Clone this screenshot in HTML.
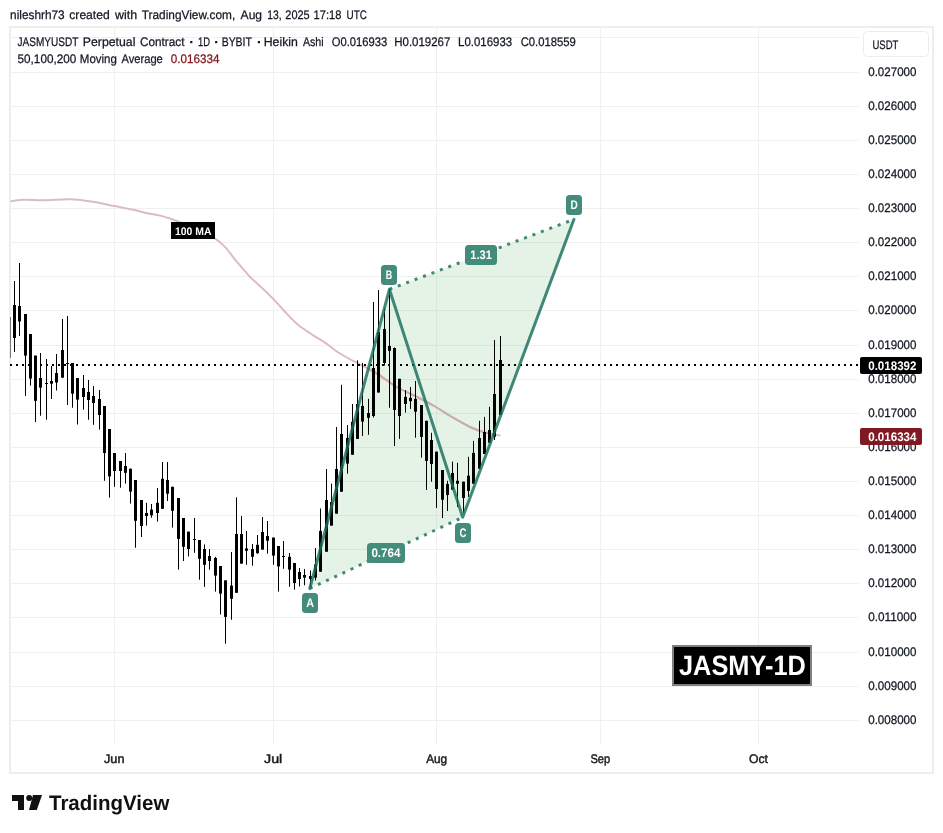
<!DOCTYPE html><html><head><meta charset="utf-8"><title>chart</title><style>
html,body{margin:0;padding:0;background:#fff;}
body{width:943px;height:833px;position:relative;overflow:hidden;}
svg{font-family:"Liberation Sans",sans-serif;will-change:transform;text-rendering:geometricPrecision;}
</style></head><body>
<svg width="943" height="833" viewBox="0 0 943 833" style="position:absolute;left:0;top:0">
<rect x="10" y="27" width="923" height="746" fill="#fff" stroke="#eeeeee" stroke-width="2"/>
<path d="M11 720.5H859 M11 686.5H859 M11 652.5H859 M11 617.5H859 M11 583.5H859 M11 549.5H859 M11 515.5H859 M11 481.5H859 M11 447.5H859 M11 413.5H859 M11 379.5H859 M11 345.5H859 M11 310.5H859 M11 276.5H859 M11 242.5H859 M11 208.5H859 M11 174.5H859 M11 140.5H859 M11 106.5H859 M11 72.5H859 M11 37.5H859 M114.5 28V745 M273.5 28V745 M436.5 28V745 M600.5 28V745 M758.5 28V745" stroke="#f0f0f0" stroke-width="1" fill="none" shape-rendering="crispEdges"/>
<polygon points="309.8,588.5 389.4,289.3 573.9,219.4 462.7,517.3" fill="rgba(76,175,80,0.15)"/>
<path d="M10.5 201.2C12.9 200.9 19.2 199.8 24.8 199.7C30.4 199.5 36.3 200.4 43.9 200.3C51.5 200.2 62.6 199.1 70.6 199.3C78.5 199.5 84.3 200.5 91.6 201.6C98.9 202.7 107.5 204.6 114.5 206C121.5 207.4 127.9 208.5 133.6 209.8C139.3 211.1 144.1 212.6 148.9 213.6C153.7 214.6 157.4 214.8 162.2 216.1C167.0 217.4 171.2 218.8 177.5 221.3C183.8 223.8 193.8 228.2 200 231C206.2 233.8 210.2 235.5 214.4 238.2C218.6 240.8 221.3 243.1 225 246.9C228.7 250.8 232.3 256.3 236.5 261.3C240.7 266.3 245.4 272.1 249.9 276.7C254.4 281.3 259.4 285.4 263.4 289.2C267.4 293.0 270.5 296.0 274 299.7C277.5 303.4 280.5 307.0 284.5 311.2C288.5 315.4 293.2 320.7 298 324.7C302.8 328.7 308.5 332.1 313.3 335.3C318.1 338.5 322.6 341.0 326.8 343.9C331.0 346.8 333.8 349.6 338.3 352.5C342.8 355.4 349.2 358.8 353.7 361.2C358.2 363.6 361.0 364.8 365.2 367C369.4 369.2 373.4 371.3 378.6 374.6C383.8 377.9 390.5 383.4 396.6 387C402.7 390.6 408.6 392.8 415 396C421.4 399.2 428.8 403.0 435 406.5C441.2 410.0 446.2 413.6 452 417C457.8 420.4 464.5 424.4 470 427C475.5 429.6 479.9 431.1 485 432.5C490.1 433.9 498.0 435.1 500.6 435.6" stroke="#dbbcc1" stroke-width="2" fill="none" stroke-linejoin="round"/>
<clipPath id="cp"><polygon points="309.8,588.5 389.4,289.3 573.9,219.4 462.7,517.3"/></clipPath>
<path d="M10.5 201.2C12.9 200.9 19.2 199.8 24.8 199.7C30.4 199.5 36.3 200.4 43.9 200.3C51.5 200.2 62.6 199.1 70.6 199.3C78.5 199.5 84.3 200.5 91.6 201.6C98.9 202.7 107.5 204.6 114.5 206C121.5 207.4 127.9 208.5 133.6 209.8C139.3 211.1 144.1 212.6 148.9 213.6C153.7 214.6 157.4 214.8 162.2 216.1C167.0 217.4 171.2 218.8 177.5 221.3C183.8 223.8 193.8 228.2 200 231C206.2 233.8 210.2 235.5 214.4 238.2C218.6 240.8 221.3 243.1 225 246.9C228.7 250.8 232.3 256.3 236.5 261.3C240.7 266.3 245.4 272.1 249.9 276.7C254.4 281.3 259.4 285.4 263.4 289.2C267.4 293.0 270.5 296.0 274 299.7C277.5 303.4 280.5 307.0 284.5 311.2C288.5 315.4 293.2 320.7 298 324.7C302.8 328.7 308.5 332.1 313.3 335.3C318.1 338.5 322.6 341.0 326.8 343.9C331.0 346.8 333.8 349.6 338.3 352.5C342.8 355.4 349.2 358.8 353.7 361.2C358.2 363.6 361.0 364.8 365.2 367C369.4 369.2 373.4 371.3 378.6 374.6C383.8 377.9 390.5 383.4 396.6 387C402.7 390.6 408.6 392.8 415 396C421.4 399.2 428.8 403.0 435 406.5C441.2 410.0 446.2 413.6 452 417C457.8 420.4 464.5 424.4 470 427C475.5 429.6 479.9 431.1 485 432.5C490.1 433.9 498.0 435.1 500.6 435.6" stroke="#ccaba9" stroke-width="2" fill="none" stroke-linejoin="round" clip-path="url(#cp)"/>
<rect x="10" y="317" width="1" height="41" fill="#777"/>
<g fill="#000"><rect x="14" y="281.0" width="1" height="71.0"/><rect x="19" y="263.0" width="1" height="73.0"/><rect x="25" y="314.0" width="1" height="82.0"/><rect x="30" y="334.0" width="1" height="51.6"/><rect x="35" y="355.6" width="1" height="66.4"/><rect x="40" y="353.0" width="1" height="62.7"/><rect x="46" y="359.0" width="1" height="60.7"/><rect x="51" y="366.0" width="1" height="33.0"/><rect x="56" y="354.0" width="1" height="36.5"/><rect x="62" y="319.0" width="1" height="58.7"/><rect x="67" y="316.0" width="1" height="89.0"/><rect x="72" y="363.0" width="1" height="44.7"/><rect x="77" y="378.0" width="1" height="46.5"/><rect x="83" y="375.0" width="1" height="34.7"/><rect x="88" y="380.0" width="1" height="39.7"/><rect x="93" y="386.0" width="1" height="38.8"/><rect x="99" y="390.0" width="1" height="39.6"/><rect x="104" y="406.0" width="1" height="74.8"/><rect x="109" y="429.0" width="1" height="68.6"/><rect x="114" y="453.0" width="1" height="33.8"/><rect x="120" y="461.0" width="1" height="26.7"/><rect x="125" y="453.0" width="1" height="30.6"/><rect x="130" y="468.7" width="1" height="34.9"/><rect x="135" y="480.0" width="1" height="67.7"/><rect x="141" y="500.0" width="1" height="37.0"/><rect x="146" y="502.8" width="1" height="22.8"/><rect x="151" y="504.0" width="1" height="13.7"/><rect x="157" y="488.0" width="1" height="33.6"/><rect x="162" y="462.0" width="1" height="46.8"/><rect x="167" y="462.0" width="1" height="39.0"/><rect x="172" y="486.8" width="1" height="40.8"/><rect x="178" y="498.0" width="1" height="71.6"/><rect x="183" y="518.0" width="1" height="43.0"/><rect x="188" y="531.7" width="1" height="24.7"/><rect x="194" y="518.0" width="1" height="34.8"/><rect x="199" y="540.0" width="1" height="39.7"/><rect x="204" y="544.4" width="1" height="42.5"/><rect x="209" y="549.0" width="1" height="20.6"/><rect x="215" y="556.8" width="1" height="34.8"/><rect x="220" y="566.0" width="1" height="48.5"/><rect x="225" y="580.4" width="1" height="63.3"/><rect x="231" y="552.0" width="1" height="67.7"/><rect x="236" y="497.3" width="1" height="95.5"/><rect x="241" y="516.0" width="1" height="47.6"/><rect x="246" y="530.9" width="1" height="33.9"/><rect x="252" y="544.0" width="1" height="21.7"/><rect x="257" y="535.0" width="1" height="18.7"/><rect x="262" y="517.0" width="1" height="32.6"/><rect x="267" y="521.0" width="1" height="32.7"/><rect x="273" y="537.6" width="1" height="27.2"/><rect x="278" y="546.0" width="1" height="45.6"/><rect x="283" y="541.0" width="1" height="27.8"/><rect x="289" y="553.0" width="1" height="33.8"/><rect x="294" y="563.0" width="1" height="26.7"/><rect x="299" y="568.0" width="1" height="18.5"/><rect x="304" y="569.0" width="1" height="16.3"/><rect x="310" y="570.5" width="1" height="17.5"/><rect x="315" y="548.0" width="1" height="32.5"/><rect x="320" y="508.5" width="1" height="63.2"/><rect x="326" y="469.0" width="1" height="82.7"/><rect x="331" y="483.6" width="1" height="42.0"/><rect x="336" y="427.0" width="1" height="86.6"/><rect x="341" y="384.8" width="1" height="106.9"/><rect x="347" y="425.0" width="1" height="48.7"/><rect x="352" y="404.0" width="1" height="50.7"/><rect x="357" y="360.4" width="1" height="78.5"/><rect x="362" y="363.0" width="1" height="73.0"/><rect x="368" y="398.8" width="1" height="36.0"/><rect x="373" y="302.0" width="1" height="115.5"/><rect x="378" y="290.0" width="1" height="102.5"/><rect x="384" y="308.0" width="1" height="57.6"/><rect x="389" y="289.3" width="1" height="118.4"/><rect x="394" y="347.5" width="1" height="98.5"/><rect x="399" y="378.8" width="1" height="60.1"/><rect x="405" y="390.0" width="1" height="22.5"/><rect x="410" y="387.0" width="1" height="21.9"/><rect x="415" y="381.0" width="1" height="56.7"/><rect x="421" y="405.0" width="1" height="52.7"/><rect x="426" y="420.8" width="1" height="69.2"/><rect x="431" y="432.8" width="1" height="48.9"/><rect x="436" y="451.7" width="1" height="56.3"/><rect x="442" y="470.0" width="1" height="48.0"/><rect x="447" y="480.8" width="1" height="30.2"/><rect x="452" y="461.6" width="1" height="28.1"/><rect x="457" y="462.8" width="1" height="44.2"/><rect x="463" y="481.7" width="1" height="30.8"/><rect x="468" y="456.8" width="1" height="40.1"/><rect x="473" y="440.9" width="1" height="42.8"/><rect x="479" y="420.8" width="1" height="48.0"/><rect x="484" y="416.9" width="1" height="37.1"/><rect x="489" y="406.8" width="1" height="36.0"/><rect x="494" y="340.0" width="1" height="100.0"/><rect x="500" y="336.0" width="1" height="79.0"/><rect x="13" y="305.0" width="3" height="33.0"/><rect x="18" y="306.0" width="3" height="15.5"/><rect x="24" y="314.0" width="3" height="41.6"/><rect x="29" y="334.0" width="3" height="44.5"/><rect x="34" y="355.6" width="3" height="45.2"/><rect x="39" y="378.0" width="3" height="9.6"/><rect x="45" y="383.0" width="3" height="1.0"/><rect x="50" y="381.0" width="3" height="2.7"/><rect x="55" y="373.0" width="3" height="9.5"/><rect x="61" y="350.0" width="3" height="27.7"/><rect x="66" y="363.0" width="3" height="1.0"/><rect x="71" y="363.0" width="3" height="30.6"/><rect x="76" y="378.0" width="3" height="21.6"/><rect x="82" y="388.0" width="3" height="9.0"/><rect x="87" y="392.0" width="3" height="8.0"/><rect x="92" y="396.0" width="3" height="7.0"/><rect x="98" y="399.0" width="3" height="16.0"/><rect x="103" y="406.0" width="3" height="47.0"/><rect x="108" y="429.0" width="3" height="47.4"/><rect x="113" y="453.0" width="3" height="18.0"/><rect x="119" y="461.0" width="3" height="10.0"/><rect x="124" y="466.0" width="3" height="6.8"/><rect x="129" y="468.7" width="3" height="22.9"/><rect x="134" y="480.0" width="3" height="40.8"/><rect x="140" y="500.0" width="3" height="26.0"/><rect x="145" y="513.0" width="3" height="3.0"/><rect x="150" y="509.6" width="3" height="5.7"/><rect x="156" y="502.8" width="3" height="10.2"/><rect x="161" y="478.8" width="3" height="30.0"/><rect x="166" y="480.0" width="3" height="13.7"/><rect x="171" y="486.8" width="3" height="24.0"/><rect x="177" y="498.0" width="3" height="40.9"/><rect x="182" y="518.0" width="3" height="28.8"/><rect x="187" y="531.7" width="3" height="17.3"/><rect x="193" y="539.0" width="3" height="1.0"/><rect x="198" y="540.0" width="3" height="18.8"/><rect x="203" y="549.0" width="3" height="15.8"/><rect x="208" y="556.0" width="3" height="5.0"/><rect x="214" y="558.0" width="3" height="17.6"/><rect x="219" y="566.0" width="3" height="27.6"/><rect x="224" y="580.4" width="3" height="36.5"/><rect x="230" y="585.6" width="3" height="13.2"/><rect x="235" y="534.0" width="3" height="58.8"/><rect x="240" y="534.0" width="3" height="29.6"/><rect x="245" y="548.4" width="3" height="2.4"/><rect x="251" y="549.0" width="3" height="7.8"/><rect x="256" y="544.8" width="3" height="8.4"/><rect x="261" y="532.0" width="3" height="17.6"/><rect x="266" y="536.0" width="3" height="4.7"/><rect x="272" y="537.6" width="3" height="18.0"/><rect x="277" y="546.0" width="3" height="20.4"/><rect x="282" y="556.0" width="3" height="1.0"/><rect x="288" y="556.8" width="3" height="12.8"/><rect x="293" y="563.0" width="3" height="20.0"/><rect x="298" y="572.0" width="3" height="7.0"/><rect x="303" y="575.0" width="3" height="2.7"/><rect x="309" y="576.0" width="3" height="3.0"/><rect x="314" y="564.5" width="3" height="13.2"/><rect x="319" y="530.9" width="3" height="40.8"/><rect x="325" y="500.0" width="3" height="51.7"/><rect x="330" y="502.0" width="3" height="23.6"/><rect x="335" y="469.0" width="3" height="44.6"/><rect x="340" y="434.0" width="3" height="57.7"/><rect x="346" y="438.0" width="3" height="25.6"/><rect x="351" y="421.8" width="3" height="32.9"/><rect x="356" y="404.0" width="3" height="34.9"/><rect x="361" y="406.0" width="3" height="15.6"/><rect x="367" y="413.0" width="3" height="4.8"/><rect x="372" y="368.0" width="3" height="48.0"/><rect x="377" y="332.0" width="3" height="60.5"/><rect x="383" y="329.0" width="3" height="34.0"/><rect x="388" y="346.0" width="3" height="4.8"/><rect x="393" y="348.0" width="3" height="62.0"/><rect x="398" y="378.8" width="3" height="37.2"/><rect x="404" y="396.9" width="3" height="7.1"/><rect x="409" y="397.8" width="3" height="3.4"/><rect x="414" y="398.9" width="3" height="12.8"/><rect x="420" y="405.0" width="3" height="31.9"/><rect x="425" y="420.8" width="3" height="40.1"/><rect x="430" y="440.0" width="3" height="24.0"/><rect x="435" y="451.7" width="3" height="37.3"/><rect x="441" y="470.0" width="3" height="29.7"/><rect x="446" y="484.0" width="3" height="11.0"/><rect x="451" y="473.0" width="3" height="16.7"/><rect x="456" y="480.8" width="3" height="2.9"/><rect x="462" y="481.7" width="3" height="16.3"/><rect x="467" y="475.7" width="3" height="15.2"/><rect x="472" y="452.9" width="3" height="30.8"/><rect x="478" y="438.0" width="3" height="30.8"/><rect x="483" y="432.0" width="3" height="22.0"/><rect x="488" y="430.0" width="3" height="12.8"/><rect x="493" y="394.0" width="3" height="42.8"/><rect x="499" y="360.0" width="3" height="55.0"/></g>
<path d="M10 365H859" stroke="#000" stroke-width="2" stroke-dasharray="2 4" fill="none"/>
<g stroke="rgba(26,110,94,0.82)" stroke-width="3" fill="none" stroke-linecap="butt" stroke-linejoin="round">
<path d="M309.8 588.5L462.7 517.3M389.4 289.3L573.9 219.4" stroke-dasharray="3 6"/>
<path d="M309.8 588.5L389.4 289.3L462.7 517.3L573.9 219.4" stroke-linecap="round"/>
</g>
<g fill="#111"><path d="M12 795H24V810H18V801H12Z"/><circle cx="29.2" cy="798" r="3"/><path d="M33 795H42L36.8 810H29Z"/></g>
<text x="10.10" y="18.9" textLength="54.60" lengthAdjust="spacingAndGlyphs" font-size="12.4" font-weight="normal" fill="#131722" stroke="#131722" stroke-width="0.25">nileshrh73</text>
<text x="69.30" y="18.9" textLength="40.39" lengthAdjust="spacingAndGlyphs" font-size="12.4" font-weight="normal" fill="#131722" stroke="#131722" stroke-width="0.25">created</text>
<text x="115.00" y="18.9" textLength="22.09" lengthAdjust="spacingAndGlyphs" font-size="12.4" font-weight="normal" fill="#131722" stroke="#131722" stroke-width="0.25">with</text>
<text x="141.80" y="18.9" textLength="93.42" lengthAdjust="spacingAndGlyphs" font-size="12.4" font-weight="normal" fill="#131722" stroke="#131722" stroke-width="0.25">TradingView.com,</text>
<text x="240.60" y="18.9" textLength="21.49" lengthAdjust="spacingAndGlyphs" font-size="12.4" font-weight="normal" fill="#131722" stroke="#131722" stroke-width="0.25">Aug</text>
<text x="267.20" y="18.9" textLength="14.37" lengthAdjust="spacingAndGlyphs" font-size="12.4" font-weight="normal" fill="#131722" stroke="#131722" stroke-width="0.25">13,</text>
<text x="285.30" y="18.9" textLength="24.40" lengthAdjust="spacingAndGlyphs" font-size="12.4" font-weight="normal" fill="#131722" stroke="#131722" stroke-width="0.25">2025</text>
<text x="313.50" y="18.9" textLength="27.90" lengthAdjust="spacingAndGlyphs" font-size="12.4" font-weight="normal" fill="#131722" stroke="#131722" stroke-width="0.25">17:18</text>
<text x="346.60" y="18.9" textLength="20.36" lengthAdjust="spacingAndGlyphs" font-size="12.4" font-weight="normal" fill="#131722" stroke="#131722" stroke-width="0.25">UTC</text>
<text x="17.60" y="46.3" textLength="60.75" lengthAdjust="spacingAndGlyphs" font-size="12.4" font-weight="normal" fill="#131722" stroke="#131722" stroke-width="0.25">JASMYUSDT</text>
<text x="82.81" y="46.3" textLength="52.64" lengthAdjust="spacingAndGlyphs" font-size="12.4" font-weight="normal" fill="#131722" stroke="#131722" stroke-width="0.25">Perpetual</text>
<text x="140.00" y="46.3" textLength="44.47" lengthAdjust="spacingAndGlyphs" font-size="12.4" font-weight="normal" fill="#131722" stroke="#131722" stroke-width="0.25">Contract</text>
<text x="198.10" y="46.3" textLength="12.06" lengthAdjust="spacingAndGlyphs" font-size="12.4" font-weight="normal" fill="#131722" stroke="#131722" stroke-width="0.25">1D</text>
<text x="221.65" y="46.3" textLength="30.28" lengthAdjust="spacingAndGlyphs" font-size="12.4" font-weight="normal" fill="#131722" stroke="#131722" stroke-width="0.25">BYBIT</text>
<text x="263.71" y="46.3" textLength="34.18" lengthAdjust="spacingAndGlyphs" font-size="12.4" font-weight="normal" fill="#131722" stroke="#131722" stroke-width="0.25">Heikin</text>
<text x="302.90" y="46.3" textLength="20.64" lengthAdjust="spacingAndGlyphs" font-size="12.4" font-weight="normal" fill="#131722" stroke="#131722" stroke-width="0.25">Ashi</text>
<text x="331.70" y="46.3" textLength="55.60" lengthAdjust="spacingAndGlyphs" font-size="12.4" font-weight="normal" fill="#131722" stroke="#131722" stroke-width="0.25">O0.016933</text>
<text x="394.27" y="46.3" textLength="56.12" lengthAdjust="spacingAndGlyphs" font-size="12.4" font-weight="normal" fill="#131722" stroke="#131722" stroke-width="0.25">H0.019267</text>
<text x="458.08" y="46.3" textLength="54.12" lengthAdjust="spacingAndGlyphs" font-size="12.4" font-weight="normal" fill="#131722" stroke="#131722" stroke-width="0.25">L0.016933</text>
<text x="520.70" y="46.3" textLength="55.20" lengthAdjust="spacingAndGlyphs" font-size="12.4" font-weight="normal" fill="#131722" stroke="#131722" stroke-width="0.25">C0.018559</text>
<rect x="190.2" y="41" width="2.2" height="2.2" rx="0" fill="#131722"/>
<rect x="215.1" y="41" width="2.2" height="2.2" rx="0" fill="#131722"/>
<rect x="257.8" y="41" width="2.2" height="2.2" rx="0" fill="#131722"/>
<text x="17.60" y="63.3" textLength="58.60" lengthAdjust="spacingAndGlyphs" font-size="12.4" font-weight="normal" fill="#131722" stroke="#131722" stroke-width="0.25">50,100,200</text>
<text x="79.87" y="63.3" textLength="37.03" lengthAdjust="spacingAndGlyphs" font-size="12.4" font-weight="normal" fill="#131722" stroke="#131722" stroke-width="0.25">Moving</text>
<text x="121.50" y="63.3" textLength="41.30" lengthAdjust="spacingAndGlyphs" font-size="12.4" font-weight="normal" fill="#131722" stroke="#131722" stroke-width="0.25">Average</text>
<text x="170.70" y="63.3" textLength="48.70" lengthAdjust="spacingAndGlyphs" font-size="12.4" font-weight="normal" fill="#801922" stroke="#801922" stroke-width="0.25">0.016334</text>
<rect x="863.5" y="31.5" width="65" height="25" rx="4" fill="#fff" stroke="#ececec" stroke-width="1"/>
<text x="872.50" y="48.6" textLength="25.77" lengthAdjust="spacingAndGlyphs" font-size="12.4" font-weight="normal" fill="#131722" stroke="#131722" stroke-width="0.25">USDT</text>
<text x="868.20" y="723.7" textLength="48.30" lengthAdjust="spacingAndGlyphs" font-size="12.4" font-weight="normal" fill="#131722" stroke="#131722" stroke-width="0.25">0.008000</text>
<text x="868.20" y="689.7" textLength="48.30" lengthAdjust="spacingAndGlyphs" font-size="12.4" font-weight="normal" fill="#131722" stroke="#131722" stroke-width="0.25">0.009000</text>
<text x="868.20" y="655.7" textLength="48.30" lengthAdjust="spacingAndGlyphs" font-size="12.4" font-weight="normal" fill="#131722" stroke="#131722" stroke-width="0.25">0.010000</text>
<text x="868.20" y="620.7" textLength="48.30" lengthAdjust="spacingAndGlyphs" font-size="12.4" font-weight="normal" fill="#131722" stroke="#131722" stroke-width="0.25">0.011000</text>
<text x="868.20" y="586.7" textLength="48.30" lengthAdjust="spacingAndGlyphs" font-size="12.4" font-weight="normal" fill="#131722" stroke="#131722" stroke-width="0.25">0.012000</text>
<text x="868.20" y="552.7" textLength="48.30" lengthAdjust="spacingAndGlyphs" font-size="12.4" font-weight="normal" fill="#131722" stroke="#131722" stroke-width="0.25">0.013000</text>
<text x="868.20" y="518.7" textLength="48.30" lengthAdjust="spacingAndGlyphs" font-size="12.4" font-weight="normal" fill="#131722" stroke="#131722" stroke-width="0.25">0.014000</text>
<text x="868.20" y="484.7" textLength="48.30" lengthAdjust="spacingAndGlyphs" font-size="12.4" font-weight="normal" fill="#131722" stroke="#131722" stroke-width="0.25">0.015000</text>
<text x="868.20" y="450.7" textLength="48.30" lengthAdjust="spacingAndGlyphs" font-size="12.4" font-weight="normal" fill="#131722" stroke="#131722" stroke-width="0.25">0.016000</text>
<text x="868.20" y="416.7" textLength="48.30" lengthAdjust="spacingAndGlyphs" font-size="12.4" font-weight="normal" fill="#131722" stroke="#131722" stroke-width="0.25">0.017000</text>
<text x="868.20" y="382.7" textLength="48.30" lengthAdjust="spacingAndGlyphs" font-size="12.4" font-weight="normal" fill="#131722" stroke="#131722" stroke-width="0.25">0.018000</text>
<text x="868.20" y="348.7" textLength="48.30" lengthAdjust="spacingAndGlyphs" font-size="12.4" font-weight="normal" fill="#131722" stroke="#131722" stroke-width="0.25">0.019000</text>
<text x="868.20" y="313.7" textLength="48.30" lengthAdjust="spacingAndGlyphs" font-size="12.4" font-weight="normal" fill="#131722" stroke="#131722" stroke-width="0.25">0.020000</text>
<text x="868.20" y="279.7" textLength="48.30" lengthAdjust="spacingAndGlyphs" font-size="12.4" font-weight="normal" fill="#131722" stroke="#131722" stroke-width="0.25">0.021000</text>
<text x="868.20" y="245.7" textLength="48.30" lengthAdjust="spacingAndGlyphs" font-size="12.4" font-weight="normal" fill="#131722" stroke="#131722" stroke-width="0.25">0.022000</text>
<text x="868.20" y="211.7" textLength="48.30" lengthAdjust="spacingAndGlyphs" font-size="12.4" font-weight="normal" fill="#131722" stroke="#131722" stroke-width="0.25">0.023000</text>
<text x="868.20" y="177.7" textLength="48.30" lengthAdjust="spacingAndGlyphs" font-size="12.4" font-weight="normal" fill="#131722" stroke="#131722" stroke-width="0.25">0.024000</text>
<text x="868.20" y="143.7" textLength="48.30" lengthAdjust="spacingAndGlyphs" font-size="12.4" font-weight="normal" fill="#131722" stroke="#131722" stroke-width="0.25">0.025000</text>
<text x="868.20" y="109.7" textLength="48.30" lengthAdjust="spacingAndGlyphs" font-size="12.4" font-weight="normal" fill="#131722" stroke="#131722" stroke-width="0.25">0.026000</text>
<text x="868.20" y="75.7" textLength="48.30" lengthAdjust="spacingAndGlyphs" font-size="12.4" font-weight="normal" fill="#131722" stroke="#131722" stroke-width="0.25">0.027000</text>
<rect x="860" y="357" width="62" height="17" rx="2" fill="#000"/>
<text x="868.20" y="369.8" textLength="48.30" lengthAdjust="spacingAndGlyphs" font-size="12.4" font-weight="bold" fill="#fff">0.018392</text>
<rect x="860" y="428" width="62" height="17" rx="2" fill="#801922"/>
<text x="868.20" y="440.8" textLength="48.30" lengthAdjust="spacingAndGlyphs" font-size="12.4" font-weight="bold" fill="#fff">0.016334</text>
<text x="104.00" y="762.7" textLength="20.49" lengthAdjust="spacingAndGlyphs" font-size="12.4" font-weight="normal" fill="#1a1a1a" stroke="#1a1a1a" stroke-width="0.45">Jun</text>
<text x="264.00" y="762.7" textLength="18.27" lengthAdjust="spacingAndGlyphs" font-size="12.4" font-weight="normal" fill="#1a1a1a" stroke="#1a1a1a" stroke-width="0.45">Jul</text>
<text x="426.20" y="762.7" textLength="21.00" lengthAdjust="spacingAndGlyphs" font-size="12.4" font-weight="normal" fill="#1a1a1a" stroke="#1a1a1a" stroke-width="0.45">Aug</text>
<text x="590.40" y="762.7" textLength="19.70" lengthAdjust="spacingAndGlyphs" font-size="12.4" font-weight="normal" fill="#1a1a1a" stroke="#1a1a1a" stroke-width="0.45">Sep</text>
<text x="749.00" y="762.7" textLength="18.95" lengthAdjust="spacingAndGlyphs" font-size="12.4" font-weight="normal" fill="#1a1a1a" stroke="#1a1a1a" stroke-width="0.45">Oct</text>
<rect x="302.0" y="593" width="16" height="20" rx="3.5" fill="#438b7b"/>
<text x="306.20" y="606.8" textLength="7.76" lengthAdjust="spacingAndGlyphs" font-size="12.4" font-weight="bold" fill="#fff">A</text>
<rect x="381.0" y="265" width="16" height="20" rx="3.5" fill="#438b7b"/>
<text x="385.80" y="278.8" textLength="6.46" lengthAdjust="spacingAndGlyphs" font-size="12.4" font-weight="bold" fill="#fff">B</text>
<rect x="455.0" y="523" width="16" height="20" rx="3.5" fill="#438b7b"/>
<text x="459.40" y="536.8" textLength="6.96" lengthAdjust="spacingAndGlyphs" font-size="12.4" font-weight="bold" fill="#fff">C</text>
<rect x="566.0" y="195" width="16" height="20" rx="3.5" fill="#438b7b"/>
<text x="570.60" y="208.8" textLength="7.26" lengthAdjust="spacingAndGlyphs" font-size="12.4" font-weight="bold" fill="#fff">D</text>
<rect x="367.0" y="543" width="38" height="20" rx="3.5" fill="#438b7b"/>
<text x="371.40" y="556.8" textLength="29.10" lengthAdjust="spacingAndGlyphs" font-size="12.4" font-weight="bold" fill="#fff">0.764</text>
<rect x="465.0" y="245" width="32" height="20" rx="3.5" fill="#438b7b"/>
<text x="470.30" y="258.8" textLength="21.50" lengthAdjust="spacingAndGlyphs" font-size="12.4" font-weight="bold" fill="#fff">1.31</text>
<rect x="171" y="222" width="44" height="17" rx="0" fill="#000"/>
<text x="174.90" y="235" textLength="36.55" lengthAdjust="spacingAndGlyphs" font-size="11" font-weight="bold" fill="#fff">100 MA</text>
<rect x="673" y="646" width="138" height="39" rx="0" fill="#000" stroke="#808080" stroke-width="2"/>
<text x="679.00" y="675" textLength="126.80" lengthAdjust="spacingAndGlyphs" font-size="28" font-weight="bold" fill="#fff">JASMY-1D</text>
<text x="49.00" y="810" textLength="120.35" lengthAdjust="spacingAndGlyphs" font-size="21" font-weight="bold" fill="#111">TradingView</text>
</svg>
</body></html>
